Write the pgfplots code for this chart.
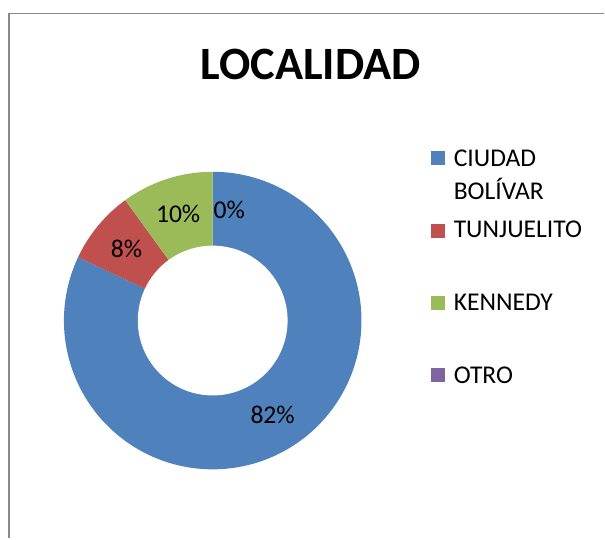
\documentclass[border=0pt]{standalone}
\usepackage{pgfplots}
\usepackage{pgfplotstable}
\usepackage{fontspec}
\setmainfont{Carlito}
\pgfplotsset{compat=1.18}
\definecolor{cblue}{HTML}{4F81BD}
\definecolor{cred}{HTML}{C0504D}
\definecolor{cgreen}{HTML}{9BBB59}
\definecolor{cpurple}{HTML}{8064A2}
\definecolor{frame}{HTML}{898989}
\pgfplotstableread{
name value
CB 82
TU 8
KE 10
OT 0
}\datatable
\begin{document}
\begin{tikzpicture}
\pgfplotstablegetelem{0}{value}\of\datatable \let\vA\pgfplotsretval
\pgfplotstablegetelem{1}{value}\of\datatable \let\vB\pgfplotsretval
\pgfplotstablegetelem{2}{value}\of\datatable \let\vC\pgfplotsretval
\pgfplotstablegetelem{3}{value}\of\datatable \let\vD\pgfplotsretval
\pgfmathsetmacro\aZ{90}
\pgfmathsetmacro\aA{90-3.6*\vA}
\pgfmathsetmacro\aB{\aA-3.6*\vB}
\pgfmathsetmacro\aC{\aB-3.6*\vC}
\pgfmathsetmacro\mA{(\aZ+\aA)/2}
\pgfmathsetmacro\mB{(\aA+\aB)/2}
\pgfmathsetmacro\mC{(\aB+\aC)/2}
\def\cx{213}\def\cy{218}\def\R{149}\def\r{75}\def\rl{112}
\begin{axis}[
  scale only axis, width=302.5pt, height=269.5pt,
  xmin=0, xmax=605, ymin=0, ymax=539,
  hide axis, clip=false,
]
\path (0,0) rectangle (605,539);
\draw[frame, line width=0.85pt] (9,0) -- (9,525.5) -- (605,525.5);
% donut slices
\addplot[fill=cblue, draw=none, domain=\aA:\aZ, samples=150] ({\cx+\R*cos(x)},{\cy+\R*sin(x)}) -- (\cx,\cy) -- cycle;
\addplot[fill=cred, draw=none, domain=\aB:\aA, samples=30] ({\cx+\R*cos(x)},{\cy+\R*sin(x)}) -- (\cx,\cy) -- cycle;
\addplot[fill=cgreen, draw=none, domain=\aC:\aB, samples=30] ({\cx+\R*cos(x)},{\cy+\R*sin(x)}) -- (\cx,\cy) -- cycle;
\addplot[fill=white, draw=none, domain=0:360, samples=150] ({\cx+\r*cos(x)},{\cy+\r*sin(x)}) -- cycle;
% data labels
\node[font=\fontsize{12.8}{15}\selectfont] at ({\cx+\rl*cos(\mA)},{\cy+\rl*sin(\mA)}) {\vA\%};
\node[font=\fontsize{12.8}{15}\selectfont] at ({\cx+\rl*cos(\mB)},{\cy+\rl*sin(\mB)}) {\vB\%};
\node[font=\fontsize{12.8}{15}\selectfont] at ({\cx+\rl*cos(\mC)},{\cy+\rl*sin(\mC)}) {\vC\%};
\node[font=\fontsize{12.8}{15}\selectfont] at (229.5,329) {\vD\%};
% title
\node[font=\fontsize{23.2}{28}\selectfont\bfseries] at (311,474.5) {LOCALIDAD};
% legend
\fill[cblue] (431.5,374) rectangle (445.5,388);
\fill[cred] (431.5,300.5) rectangle (445.5,314.5);
\fill[cgreen] (431.5,229) rectangle (445.5,243);
\fill[cpurple] (431.5,156.5) rectangle (445.5,170.5);
\begin{scope}[every node/.style={anchor=base west, inner sep=0pt, font=\fontsize{12.8}{15}\selectfont}]
\node at (454,372) {CIUDAD};
\node at (454,339.5) {BOLÍVAR};
\node at (454,301) {TUNJUELITO};
\node at (454,228) {KENNEDY};
\node at (454,155) {OTRO};
\end{scope}
\end{axis}
\end{tikzpicture}
\end{document}
